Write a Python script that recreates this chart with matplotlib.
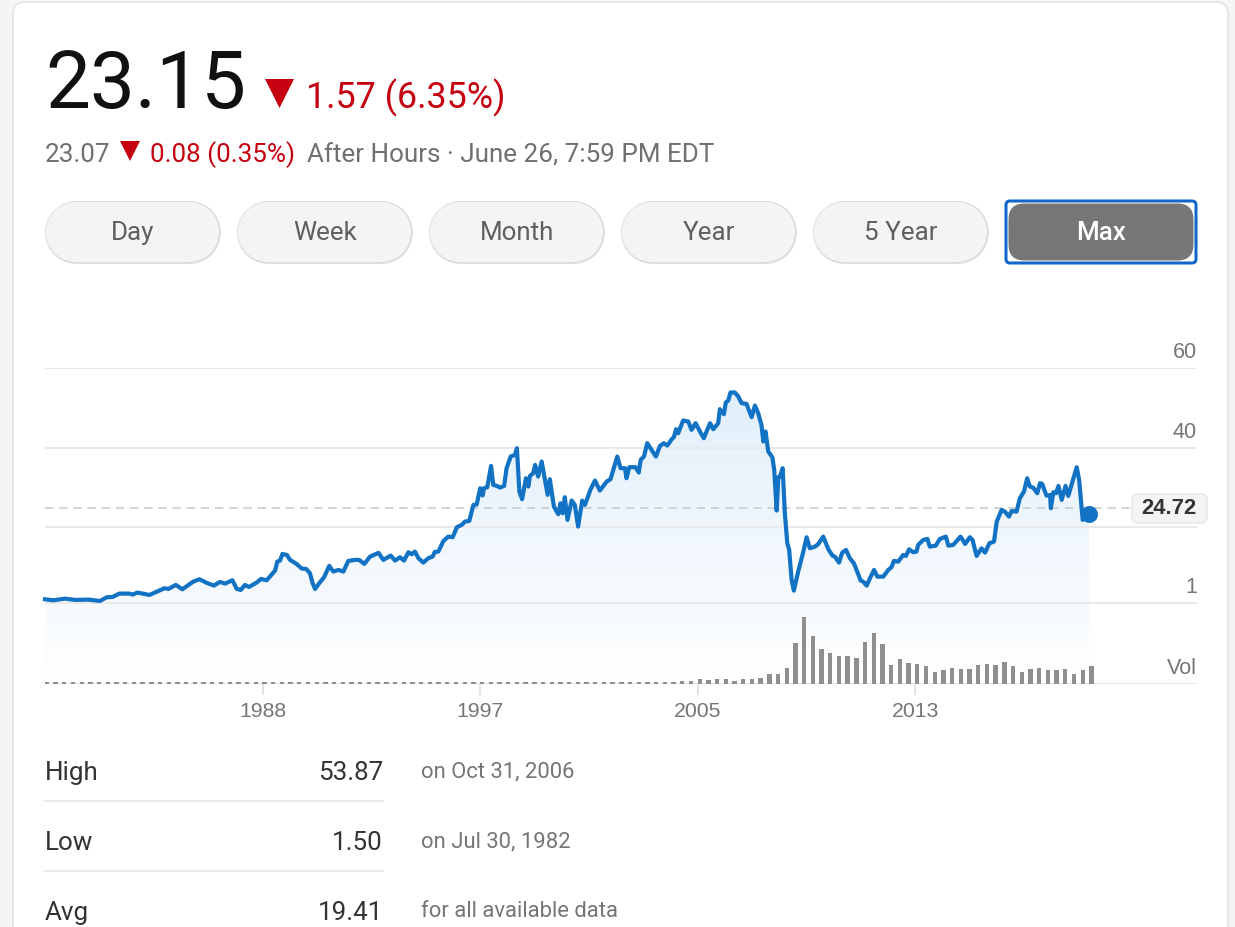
import matplotlib
matplotlib.use("Agg")
import matplotlib.pyplot as plt
import numpy as np
from matplotlib.patches import FancyBboxPatch, Polygon
from matplotlib.colors import LinearSegmentedColormap
from matplotlib.transforms import blended_transform_factory

price_years = [1981.0,1981.31,1981.74,1982.1,1982.6,1983.02,1983.27,1983.49,1983.73,1984.1,1984.22,1984.4,1984.84,1985.17,1985.39,1985.54,1985.81,1986.05,1986.45,1986.68,1986.95,1987.21,1987.43,1987.62,1987.89,1988.05,1988.2,1988.35,1988.5,1988.78,1988.94,1989.15,1989.46,1989.54,1989.64,1989.73,1989.89,1990.01,1990.25,1990.44,1990.6,1990.74,1990.84,1990.93,1991.11,1991.26,1991.45,1991.6,1991.79,1991.97,1992.15,1992.4,1992.55,1992.74,1992.95,1993.26,1993.44,1993.71,1993.87,1994.05,1994.2,1994.36,1994.48,1994.6,1994.73,1994.91,1995.09,1995.25,1995.33,1995.46,1995.65,1995.83,1995.99,1996.14,1996.32,1996.44,1996.6,1996.75,1996.87,1997.0,1997.09,1997.14,1997.26,1997.4,1997.48,1997.61,1997.73,1997.88,1997.97,1998.12,1998.28,1998.35,1998.44,1998.54,1998.68,1998.77,1998.83,1998.95,1999.02,1999.13,1999.26,1999.48,1999.56,1999.71,1999.87,1999.95,2000.03,2000.11,2000.21,2000.36,2000.48,2000.6,2000.75,2000.85,2001.06,2001.22,2001.4,2001.65,2001.79,2002.04,2002.16,2002.32,2002.38,2002.48,2002.71,2002.83,2002.9,2003.02,2003.14,2003.3,2003.46,2003.61,2003.75,2003.88,2004.04,2004.12,2004.2,2004.28,2004.46,2004.65,2004.77,2004.92,2005.08,2005.22,2005.45,2005.57,2005.75,2005.81,2005.96,2006.03,2006.12,2006.2,2006.36,2006.49,2006.61,2006.79,2006.98,2007.1,2007.22,2007.34,2007.41,2007.49,2007.59,2007.74,2007.81,2007.9,2007.96,2008.02,2008.12,2008.2,2008.29,2008.36,2008.45,2008.53,2008.69,2008.88,2009.0,2009.12,2009.31,2009.43,2009.61,2009.8,2009.96,2010.04,2010.19,2010.31,2010.45,2010.59,2010.74,2010.86,2010.99,2011.08,2011.21,2011.33,2011.48,2011.6,2011.82,2012.0,2012.12,2012.21,2012.37,2012.55,2012.65,2012.77,2012.92,2013.04,2013.1,2013.29,2013.44,2013.53,2013.75,2013.9,2014.12,2014.21,2014.39,2014.66,2014.83,2015.0,2015.1,2015.25,2015.43,2015.56,2015.72,2015.89,2015.99,2016.17,2016.29,2016.44,2016.54,2016.72,2016.84,2016.99,2017.11,2017.21,2017.33,2017.48,2017.58,2017.66,2017.82,2017.95,2017.98,2018.07,2018.17,2018.26,2018.38,2018.52,2018.62,2018.93,2019.02,2019.15,2019.39]
prices = [1.92,1.67,2.09,1.76,1.84,1.50,2.43,2.51,3.35,3.35,3.10,3.60,3.01,4.02,4.69,4.52,5.53,4.43,6.36,6.95,6.03,5.36,6.28,5.86,6.70,4.52,4.27,5.53,5.02,6.11,7.03,6.70,9.13,11.39,11.64,13.31,13.06,11.81,10.80,9.63,9.55,8.46,5.95,4.52,6.2,7.45,10.3,8.88,9.29,8.88,11.56,11.81,11.81,10.8,12.64,13.57,11.81,12.9,11.64,12.48,11.64,13.73,13.23,13.9,12.23,11.14,12.23,12.64,13.82,13.9,16.58,17.67,17.5,20.01,20.6,21.44,21.6,25.63,25.71,29.81,28.0,29.81,30.06,35.42,30.65,30.4,29.98,30.4,34.84,37.77,38.19,39.86,28.98,27.05,32.32,30.23,32.91,33.58,35.67,32.74,36.51,28.14,32.07,25.2,23.28,26.04,23.53,27.55,21.85,26.71,25.62,20.18,26.71,25.62,29.56,31.74,29.22,31.48,32.07,37.77,34.84,34.84,32.32,35.09,35.09,33.75,36.93,37.77,41.12,39.44,37.77,40.45,41.12,40.53,42.12,42.62,44.63,43.63,46.81,46.56,44.47,46.14,44.05,42.37,46.14,44.63,46.14,49.66,48.4,51.34,51.84,53.85,53.85,52.84,51.17,51.0,47.65,50.58,48.65,45.72,41.54,44.05,39.02,37.6,34.42,24.2,32.57,32.74,34.84,23.53,15.99,14.32,6.78,4.1,8.87,13.9,17.5,14.74,15.15,15.8,17.66,14.48,12.81,12.64,11.13,13.64,14.31,12.22,10.96,8.87,6.61,6.36,5.35,7.2,9.29,7.61,7.61,9.29,9.96,11.55,11.38,13.06,12.81,14.48,13.73,13.9,15.57,16.83,17.08,15.15,15.4,17.08,17.66,15.4,15.57,17.66,15.82,17.5,16.83,12.81,14.73,13.64,15.99,16.41,21.43,24.36,23.94,22.69,24.11,23.94,27.29,28.97,32.32,30.23,29.97,28.55,31.06,30.9,27.96,28.13,24.78,28.8,28.55,30.39,26.88,30.39,27.88,35.08,31.9,21.85,23.36]

volume = [2,2,2,2,2,2,2,2,2,2,2,2,2,2,2,2,2,2,2,2,2,2,2,2,2,2,2,2,2,2,2,2,2,2,2,2,2,2,2,2,2,2,2,2,2,2,2,2,2,2,2,2,2,2,2,2,2,2,2,2,2,2,2,2,2,2,2,2,2,2,2,2,
          2.5,3,3,5,4,5,5,3.5,5,5,6,10,10,16,41,67,48,
          35,31,28,28,26,42,51,40,19,25,21,20,18,12,14,16,15,15,19,20,19,22,18,12,15,16,14,14,15,10,14,18]
vol_step_years = 0.32
vol_last_year = 2019.47

y_ticks = [1, 20, 40, 60]
y_tick_labels = ["1", "", "40", "60"]
x_ticks = [1989.0, 1997.0, 2005.0, 2013.0]
x_tick_labels = ["1988", "1997", "2005", "2013"]
prev_close = 24.72

buttons = ["Day", "Week", "Month", "Year", "5 Year", "Max"]
stat_names = ["High", "Low", "Avg"]
stat_values = ["53.87", "1.50", "19.41"]
stat_notes = ["on Oct 31, 2006", "on Jul 30, 1982", "for all available data"]

W, H = 1235, 927
BLUE = "#1272c4"
RED = "#c5000f"
ROBOTO = "Roboto"
ARIAL = "Liberation Sans"
PX = 0.72  # points per pixel at dpi 100

fig = plt.figure(figsize=(W / 100, H / 100), dpi=100, facecolor="#f5f5f5")


def axes_px(x0, y0, x1, y1, **kw):
    return fig.add_axes([x0 / W, 1 - y1 / H, (x1 - x0) / W, (y1 - y0) / H], **kw)


# page layer in pixel units
ui = axes_px(0, 0, W, H)
ui.set_xlim(0, W)
ui.set_ylim(H, 0)
ui.axis("off")
ui.add_patch(FancyBboxPatch((13, 2), 1215, 1000, boxstyle="round,pad=0,rounding_size=12",
                            fc="white", ec="#e4e4e4", lw=1.2))

ui.text(45, 108, "23.15", fontsize=57.6, family=ROBOTO, color="#111111", va="baseline")
ui.add_patch(Polygon([(265, 79), (294, 79), (279.5, 108)], fc=RED, ec="none"))
ui.text(306, 108, "1.57 (6.35%)", fontsize=25.8, family=ROBOTO, color=RED, va="baseline")
ui.text(45, 162, "23.07", fontsize=18.7, family=ROBOTO, color="#707070", va="baseline")
ui.add_patch(Polygon([(120, 141), (140, 141), (130, 161)], fc=RED, ec="none"))
ui.text(150, 162, "0.08 (0.35%)", fontsize=18.7, family=ROBOTO, color=RED, va="baseline")
ui.text(307, 162, "After Hours · June 26, 7:59 PM EDT", fontsize=18.7, family=ROBOTO,
        color="#707070", va="baseline")

for i, label in enumerate(buttons):
    x0 = 46 + 192 * i
    if label == "Max":
        ui.add_patch(FancyBboxPatch((1006, 201), 190, 62, boxstyle="round,pad=0,rounding_size=4",
                                    fc="white", ec="#1166cc", lw=2.2, zorder=2))
        ui.add_patch(FancyBboxPatch((1008.5, 203.5), 185, 57, boxstyle="round,pad=0,rounding_size=16",
                                    fc="#767676", ec="none", zorder=3))
        col, weight = "white", "medium"
        cx = 1101
    else:
        ends = [x0 + 30, x0 + 143]
        ui.plot(ends, [231.5, 231.5], color="#dddddd", lw=63 * PX, solid_capstyle="round", zorder=2)
        ui.plot(ends, [231.5, 231.5], color="#f4f4f4", lw=60 * PX, solid_capstyle="round", zorder=2.5)
        col, weight = "#5f5f5f", "normal"
        cx = x0 + 87
    ui.text(cx, 240, label, fontsize=18.7, family=ROBOTO,
            color=col, ha="center", va="baseline", zorder=4, weight=weight)

for i, name in enumerate(stat_names):
    base = 780 + 70 * i
    ui.text(45, base, name, fontsize=18.7, family=ROBOTO, color="#333333", va="baseline")
    ui.text(383, base, stat_values[i], fontsize=18.7, family=ROBOTO, color="#333333",
            ha="right", va="baseline")
    ui.text(421, base - 3, stat_notes[i], fontsize=15.8, family=ROBOTO, color="#757575", va="baseline")
    if i < 2:
        ui.plot([45, 383], [base + 21, base + 21], color="#e8e8e8", lw=1.3)

ui.add_patch(FancyBboxPatch((1132, 494), 75, 29, boxstyle="round,pad=0,rounding_size=6",
                            fc="#f4f4f4", ec="#e8e8e8", lw=1.2))

# price chart
ax = axes_px(45, 368, 1197, 684)
ax.patch.set_alpha(0)
year_px = 27.2
ax.set_xlim(1981.0, 1981.0 + 1152 / year_px)
px_per_unit = 3.98
ax.set_ylim(1 - 81 / px_per_unit, 60)
for s in ax.spines.values():
    s.set_visible(False)

ax.set_yticks(y_ticks)
ax.set_yticklabels([])
ax.yaxis.set_tick_params(length=0)
ax.grid(axis="y", color="#e9e9e9", lw=1.4)
ax.set_axisbelow(True)

ax.set_xticks(x_ticks)
ax.set_xticklabels(x_tick_labels, fontsize=15.3, family=ARIAL, color="#757575")
ax.xaxis.set_tick_params(length=8, width=1.1, color="#dddddd", pad=5)

trans = blended_transform_factory(ax.transAxes, ax.transData)
for v, lab in zip(y_ticks, y_tick_labels):
    if lab:
        ax.annotate(lab, xy=(1, v), xycoords=trans, xytext=(0, 3.6), textcoords="offset points",
                    ha="right", va="bottom", fontsize=15.5, family=ARIAL, color="#757575")
ax.annotate("Vol", xy=(1, 0), xycoords="axes fraction", xytext=(0, 3.6), textcoords="offset points",
            ha="right", va="bottom", fontsize=15.5, family=ARIAL, color="#757575")

ybot = ax.get_ylim()[0]
cmap = LinearSegmentedColormap.from_list("fade", ["#e1effb", "#ffffff"])
grad = np.linspace(0, 1, 256).reshape(-1, 1)
img = ax.imshow(grad, extent=[ax.get_xlim()[0], ax.get_xlim()[1], ybot, max(prices)], origin="upper",
                cmap=cmap, aspect="auto", zorder=0.2)
poly = Polygon(list(zip(price_years, prices)) + [(price_years[-1], ybot), (price_years[0], ybot)],
               closed=True, transform=ax.transData, fc="none", ec="none")
ax.add_patch(poly)
img.set_clip_path(poly)
ax.set_xlim(1981.0, 1981.0 + 1152 / year_px)
ax.set_ylim(ybot, 60)

ax.plot([ax.get_xlim()[0], 2020.9], [prev_close, prev_close], color="#cccccc", lw=1.2,
        dashes=(5, 3.5), zorder=2)
ax.plot(price_years, prices, color=BLUE, lw=3.0, zorder=4, solid_joinstyle="round", clip_on=False)
ax.plot(price_years[-1], prices[-1], "o", color=BLUE, ms=12.2, mew=0, zorder=5)

ax.annotate(f"{prev_close:.2f}", xy=(1, prev_close), xycoords=trans, xytext=(0, 0),
            textcoords="offset points", ha="right", va="center", fontsize=15.8, family=ARIAL,
            weight="bold", color="#333333", zorder=7, annotation_clip=False)

# volume bars on a second scale sharing the x axis
vx = ax.twinx()
vx.set_ylim(0, 316)
vx.axis("off")
bar_years = [vol_last_year - vol_step_years * (len(volume) - 1 - i) for i in range(len(volume))]
vx.plot(ax.get_xlim(), [0, 0], color="#e3e3e3", lw=1.4, zorder=2)
vx.bar(bar_years, volume, width=0.16, color="#8f8f8f", zorder=3)

fig.savefig("out.png", dpi=100, facecolor=fig.get_facecolor())
